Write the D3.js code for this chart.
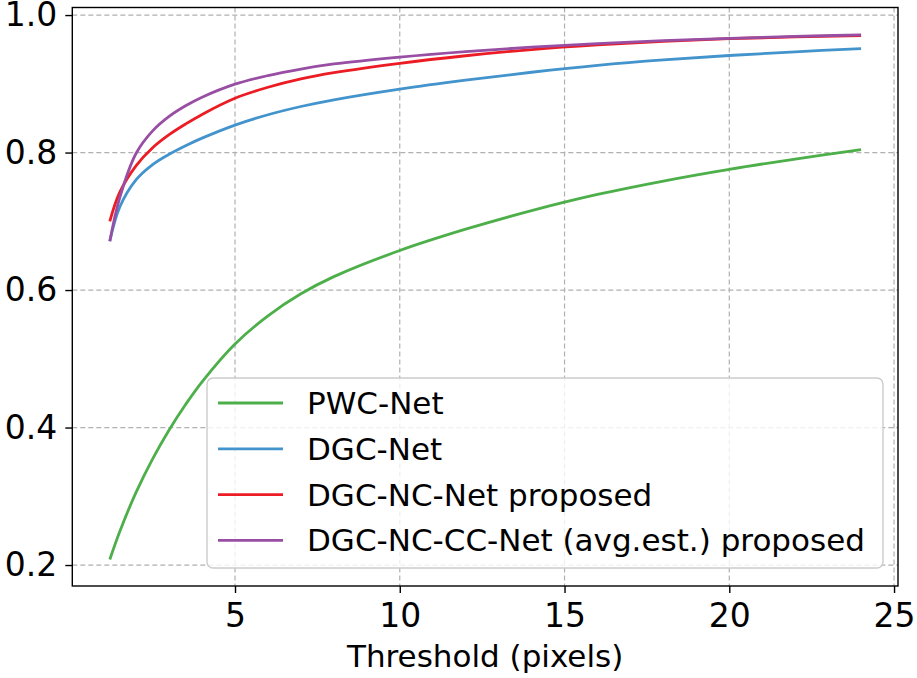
<!DOCTYPE html>
<html>
<head>
<meta charset="utf-8">
<script src="https://cdn.jsdelivr.net/npm/d3@7"></script>
<style>
  body { margin: 0; background: #fff; }
  text { font-family: "DejaVu Sans", sans-serif; fill: #000; }
</style>
</head>
<body>
<script>
// thresholds (pixels) shared by all curves
const thresholds = [1.2, 1.5, 2, 2.5, 3, 3.5, 4, 5, 6, 7, 8, 10, 12, 14, 16, 18, 20, 22, 24];

// accuracy per method
const pwcNet   = [0.208, 0.2485, 0.306, 0.3545, 0.3965, 0.4335, 0.4665, 0.5215, 0.5625, 0.5945, 0.6195, 0.6575, 0.6885, 0.7155, 0.739, 0.7586, 0.7756, 0.7906, 0.8042];
const dgcNet   = [0.671, 0.7205, 0.7605, 0.7825, 0.7975, 0.810, 0.821, 0.840, 0.855, 0.867, 0.8768, 0.8924, 0.9054, 0.9168, 0.9268, 0.9348, 0.9412, 0.9466, 0.9512];
const dgcNcNet = [0.700, 0.742, 0.781, 0.807, 0.826, 0.8415, 0.8555, 0.879, 0.895, 0.9072, 0.9162, 0.9298, 0.9408, 0.9498, 0.9566, 0.9618, 0.9656, 0.9682, 0.970];
const dgcNcCc  = [0.671, 0.734, 0.799, 0.8315, 0.8525, 0.868, 0.8805, 0.8995, 0.912, 0.9215, 0.9289, 0.9389, 0.9469, 0.9533, 0.9585, 0.9627, 0.9661, 0.9689, 0.9713];

const seriesNames  = ["PWC-Net", "DGC-Net", "DGC-NC-Net proposed", "DGC-NC-CC-Net (avg.est.) proposed"];
const seriesValues = [pwcNet, dgcNet, dgcNcNet, dgcNcCc];
const colors = ["#4daf4a", "#4393cc", "#ec1c24", "#984ea3"];

const xTicks = [5, 10, 15, 20, 25];
const yTicks = [0.2, 0.4, 0.6, 0.8, 1.0];

const W = 917, H = 678;
const plotLeft = 72.3, plotRight = 898, plotTop = 7.5, plotBottom = 586;

const svg = d3.select("body").append("svg")
  .attr("width", W)
  .attr("height", H);

const x = d3.scaleLinear().domain([0.062, 25.12]).range([plotLeft, plotRight]);
const y = d3.scaleLinear().domain([0.1695, 1.011]).range([plotBottom, plotTop]);

// gridlines
const grid = svg.append("g")
  .attr("stroke", "#b0b0b0")
  .attr("stroke-width", 1.2)
  .attr("stroke-dasharray", "5,3");
xTicks.forEach(t => grid.append("line")
  .attr("x1", x(t)).attr("x2", x(t))
  .attr("y1", plotTop).attr("y2", plotBottom));
yTicks.forEach(t => grid.append("line")
  .attr("x1", plotLeft).attr("x2", plotRight)
  .attr("y1", y(t)).attr("y2", y(t)));

// curves
const line = d3.line()
  .x(d => x(d[0]))
  .y(d => y(d[1]))
  .curve(d3.curveCatmullRom.alpha(0.5));

seriesValues.forEach((vals, i) => {
  svg.append("path")
    .datum(thresholds.map((t, j) => [t, vals[j]]))
    .attr("d", line)
    .attr("fill", "none")
    .attr("stroke", colors[i])
    .attr("stroke-width", 2.8)
    .attr("stroke-linecap", "butt");
});

// spines
svg.append("rect")
  .attr("x", plotLeft).attr("y", plotTop)
  .attr("width", plotRight - plotLeft).attr("height", plotBottom - plotTop)
  .attr("fill", "none")
  .attr("stroke", "#000")
  .attr("stroke-width", 1.4);

// axes
const xAxis = svg.append("g")
  .attr("transform", `translate(0,${plotBottom})`)
  .call(d3.axisBottom(x).tickValues(xTicks).tickSize(7).tickPadding(11).tickFormat(d3.format("d")));
const yAxis = svg.append("g")
  .attr("transform", `translate(${plotLeft},0)`)
  .call(d3.axisLeft(y).tickValues(yTicks).tickSize(7).tickPadding(8).tickFormat(d3.format(".1f")));

[xAxis, yAxis].forEach(a => {
  a.select(".domain").remove();
  a.selectAll(".tick line").attr("stroke", "#000").attr("stroke-width", 1.4);
  a.selectAll(".tick text")
    .style("font-family", "'DejaVu Sans', sans-serif")
    .style("font-size", "33px");
});

svg.append("text")
  .attr("x", (plotLeft + plotRight) / 2)
  .attr("y", 667)
  .attr("text-anchor", "middle")
  .style("font-size", "31px")
  .text("Threshold (pixels)");

// legend
const legend = svg.append("g");
legend.append("rect")
  .attr("x", 207).attr("y", 378)
  .attr("width", 676).attr("height", 190)
  .attr("rx", 6)
  .attr("fill", "#fff").attr("fill-opacity", 0.8)
  .attr("stroke", "#cccccc").attr("stroke-width", 1.4);

seriesNames.forEach((name, i) => {
  const ly = 403 + i * 45.8;
  legend.append("line")
    .attr("x1", 218).attr("x2", 283)
    .attr("y1", ly).attr("y2", ly)
    .attr("stroke", colors[i])
    .attr("stroke-width", 2.8);
  legend.append("text")
    .attr("x", 307).attr("y", ly)
    .attr("dominant-baseline", "central")
    .style("font-size", "31px")
    .text(name);
});
</script>
</body>
</html>
